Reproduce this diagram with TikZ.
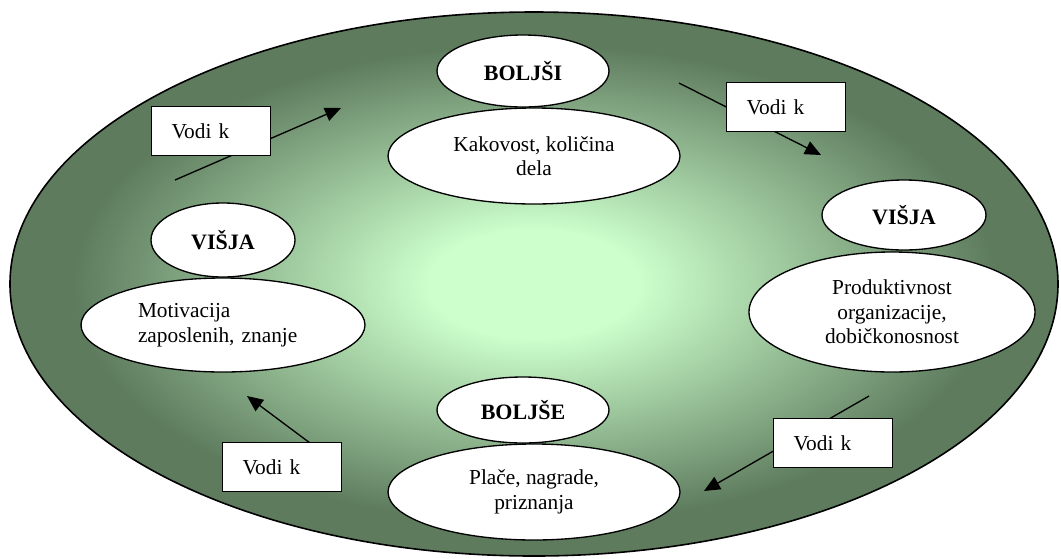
\documentclass[tikz,border=0pt]{standalone}
\usepackage{fontspec}
\setmainfont{Liberation Serif}
\usepackage{tikz}
\usepackage{xcolor}
\usetikzlibrary{arrows.meta,shapes.geometric}

\definecolor{glowlight}{HTML}{CCFFCC}
\definecolor{glowdark}{HTML}{5E7B5E}
\pgfdeclareradialshading{glow}{\pgfpoint{0bp}{0bp}}{%
  color(0bp)=(glowlight); color(5bp)=(glowlight);
  color(22bp)=(glowdark); color(50bp)=(glowdark)}

\tikzset{
  oval/.style={ellipse,draw,fill=white,line width=1pt,inner sep=0pt,align=center},
  title/.style={oval,font=\fontsize{16.5}{18.4}\selectfont\bfseries},
  leadbox/.style={rectangle,draw,fill=white,line width=1pt,text width=59.25pt,
    inner xsep=15pt,inner ysep=0pt,minimum height=36.75pt,align=left},
  lead/.style={->,line width=1pt}
}

\begin{document}
\begin{tikzpicture}[x=0.75pt,y=-0.75pt,>={Triangle[length=12pt,width=10.5pt]},
    font=\fontsize{16}{18.4}\selectfont]
	\useasboundingbox (0,0) rectangle (1061,558);

	% the big shaded ellipse
	\shade[shading=glow,draw,line width=1.2pt] (534,284) ellipse (524 and 272);

	% end points of the arrows
	\coordinate (a1) at (175,180);
	\coordinate (a2) at (341,108);
	\coordinate (b1) at (679,83);
	\coordinate (b2) at (821,155);
	\coordinate (c1) at (869,396);
	\coordinate (c2) at (704,491);
	\coordinate (d1) at (310,443);
	\coordinate (d2) at (247,396);

	% the arrows, under the boxes
	\draw[lead] (a1) -- (a2);
	\draw[lead] (b1) -- (b2);
	\draw[lead] (c1) -- (c2);
	\draw[lead] (d1) -- (d2);

	% the boxes
	\node[leadbox] (vodiA) at (211,131) {Vodi k};
	\node[leadbox] (vodiB) at (786,107) {Vodi k};
	\node[leadbox] (vodiC) at (833,443) {Vodi k};
	\node[leadbox] (vodiD) at (282,467) {Vodi k};

	% top
	\node[title,minimum width=129pt,minimum height=54pt] (boljsi) at (523,71) {BOLJŠI};
	\node[oval,minimum width=219pt,minimum height=72pt] (kakovost) at (534,156)
		{Kakovost, količina\\dela};

	% left
	\node[title,minimum width=108pt,minimum height=55.5pt] (visjaL) at (223,240) {VIŠJA};
	\node[oval,minimum width=213pt,minimum height=70.5pt,text width=127.5pt,align=left]
		(motivacija) at (223,325) {Motivacija\\zaposlenih, znanje};

	% right
	\node[title,minimum width=123pt,minimum height=52.5pt] (visjaR) at (904,215) {VIŠJA};
	\node[oval,minimum width=214.5pt,minimum height=90pt] (produktivnost) at (892,312)
		{Produktivnost\\organizacije,\\dobičkonosnost};

	% bottom
	\node[title,minimum width=129pt,minimum height=49.5pt] (boljse) at (523,410) {BOLJŠE};
	\node[oval,minimum width=219pt,minimum height=72pt] (place) at (534,492)
		{Plače, nagrade,\\priznanja};
\end{tikzpicture}
\end{document}
